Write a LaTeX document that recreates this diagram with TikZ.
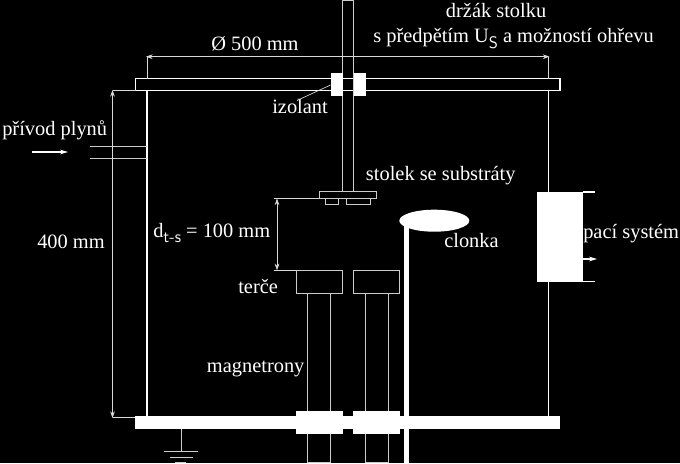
\documentclass[tikz,border=0pt]{standalone}
\usepackage{fontspec}
\setmainfont{Liberation Serif}
\usepackage{tikz}
\usetikzlibrary{arrows.meta}
\tikzset{
  lbl/.style={text=white, anchor=base west, inner sep=0pt, font=\fontsize{15.3pt}{17pt}\selectfont},
  wall/.style={draw=white, line width=1.1pt},
  edge/.style={draw=white!80!black, line width=0.7pt},
  dim/.style={draw=white!85!black, line width=0.5pt},
  dimarrow/.style={dim, {Stealth[length=5pt,width=3.5pt]}-{Stealth[length=5pt,width=3.5pt]}},
  flow/.style={draw=white, line width=0.8pt, -{Stealth[length=6pt,width=3.5pt]}},
  solid block/.style={fill=white, draw=none}
}
\newcommand{\subtxt}[1]{\raisebox{-0.25em}{\fontsize{12.5pt}{12.5pt}\selectfont\sffamily #1}}
\begin{document}
\begin{tikzpicture}[x=0.75pt, y=-0.75pt]
    \fill[black] (0,0) rectangle (680,463);
    \useasboundingbox (0,0) rectangle (680,463);
    % komora
    \draw[wall] (147,90) -- (147,416);
    \draw[wall] (548.3,90) -- (548.3,192);
    \draw[wall] (548.3,282) -- (548.3,416);
    \draw[wall] (135.5,78.7) rectangle (560,90.3);
    \fill[solid block] (135,416) rectangle (560,429.3);
    % drzak a stolek
    \draw[edge] (342.5,0) -- (342.5,191);
    \draw[edge] (353.5,0) -- (353.5,191);
    \draw[edge] (342.5,0) -- (353.5,0);
    \fill[solid block] (330.5,73) rectangle (342.5,96);
    \fill[solid block] (353.5,73) rectangle (365.5,96);
    \draw[edge] (319,191) rectangle (376.5,198.5);
    \draw[edge] (325.5,198.5) rectangle (338,204);
    \draw[edge] (346.5,198.5) rectangle (370,204);
    % magnetrony
    \foreach \xa/\xb in {296/342.5, 353.3/399.7} {
        \draw[edge] (\xa,270.3) rectangle (\xb,293.3);
        \fill[solid block] (\xa,411) rectangle (\xb,434.3);
    }
    \foreach \xa/\xb in {307.3/330.3, 365/388} {
        \draw[edge] (\xa,293.3) -- (\xa,411);
        \draw[edge] (\xb,293.3) -- (\xb,411);
        \draw[edge] (\xa,434.3) -- (\xa,462) -- (\xb,462) -- (\xb,434.3);
    }
    % clonka
    \draw[draw=white, line width=3.6pt] (406.4,224) -- (406.4,463);
    \fill[white] (434.3,220.7) ellipse (35 and 11);
    % cerpani
    \fill[solid block] (537.3,191.7) rectangle (583.3,281.7);
    \draw[wall] (583,192) -- (595,192);
    \draw[wall] (583,281.5) -- (595,281.5);
    \draw[flow] (578,259) -- (597,259);
    % privod plynu
    \draw[edge] (89.5,146.7) -- (147,146.7);
    \draw[edge] (89.5,158) -- (147,158);
    \draw[flow] (32,152) -- (68,152);
    % zem
    \draw[edge] (181,429.3) -- (181,451);
    \draw[edge] (164,451) -- (198,451);
    \draw[edge] (170,457) -- (193,457);
    \draw[edge] (175,462.2) -- (186,462.2);
    % koty
    \draw[dim] (147,56.7) -- (147,78.7);
    \draw[dim] (548.3,56.7) -- (548.3,78.7);
    \draw[dimarrow] (146,56.7) -- (549.5,56.7);
    \draw[dim] (112.5,90.3) -- (135.5,90.3);
    \draw[dim] (112.5,417.3) -- (135,417.3);
    \draw[dimarrow] (112.5,90) -- (112.5,418);
    \draw[dim] (273.5,198.5) -- (319,198.5);
    \draw[dim] (273.5,270.3) -- (296,270.3);
    \draw[dimarrow] (277,198.5) -- (277,270.3);
    % popisky
    \node[lbl] (prumer) at (211,51) {Ø 500 mm};
    \node[lbl] (drzak) at (445.7,17.3) {držák stolku};
    \node[lbl] (predpeti) at (373,43) {s předpětím U\subtxt{S} a možností ohřevu};
    \node[lbl] (izolant) at (272,113.3) {izolant};
    \node[lbl] (stolek) at (365.7,180.7) {stolek se substráty};
    \node[lbl] (plyny) at (2,136) {přívod plynů};
    \node[lbl] (vyska) at (37,248) {400 mm};
    \node[lbl] (vzdalenost) at (153,237) {d\subtxt{t-s} = 100 mm};
    \node[lbl] (terce) at (238,293) {terče};
    \node[lbl] (magnetrony) at (206.7,372.7) {magnetrony};
    \node[lbl] (clonka) at (444,247) {clonka};
    \node[lbl] (system) at (583,238) {pací systém};
    \coordinate (izolantkonec) at (330.5,85);
    \coordinate (izolantzacatek) at (297,100.5);
    \draw[dim] (izolantzacatek) -- (izolantkonec);
\end{tikzpicture}
\end{document}
